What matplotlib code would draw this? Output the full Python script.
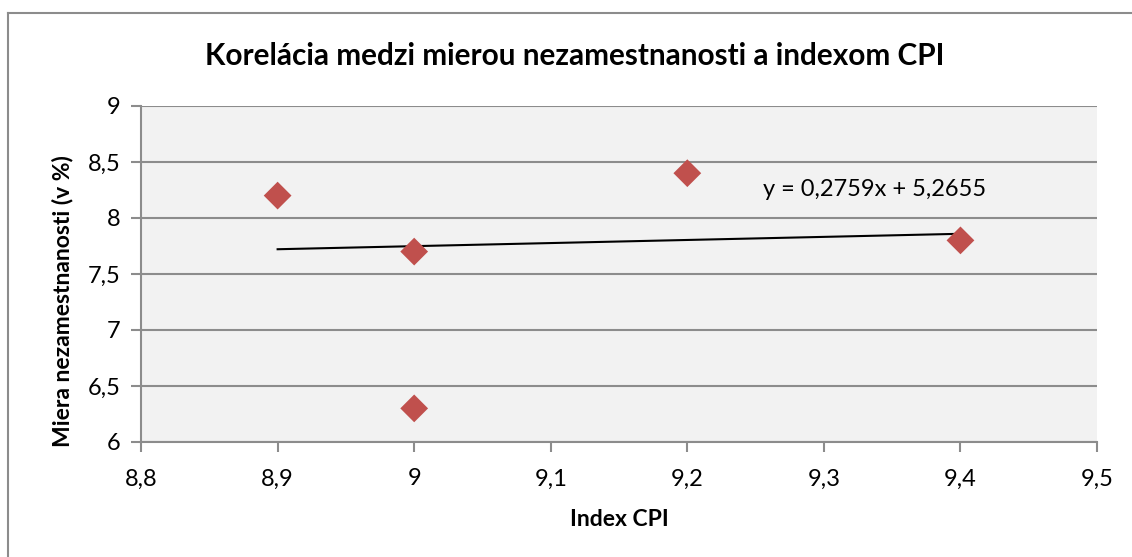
import matplotlib
matplotlib.use("Agg")
import matplotlib.pyplot as plt
import numpy as np
from matplotlib.lines import Line2D

cpi = [8.9, 9.0, 9.0, 9.2, 9.4]
unemployment = [8.2, 7.7, 6.3, 8.4, 7.8]
slope, intercept = 0.2759, 5.2655
x_ticks = [8.8, 8.9, 9.0, 9.1, 9.2, 9.3, 9.4, 9.5]
x_labels = ["8,8", "8,9", "9", "9,1", "9,2", "9,3", "9,4", "9,5"]
y_ticks = [6, 6.5, 7, 7.5, 8, 8.5, 9]
y_labels = ["6", "6,5", "7", "7,5", "8", "8,5", "9"]

plt.rcParams['font.family'] = ['Lato', 'DejaVu Sans']
fig = plt.figure(figsize=(11.32, 5.57), dpi=100)
ax = fig.add_axes([0.1246, 0.2065, 0.8445, 0.6032])
ax.set_facecolor('#F2F2F2')
grid_c = '#8C8C8C'
ax.set_xlim(8.8, 9.5)
ax.set_ylim(6, 9)
ax.set_yticks(y_ticks)
ax.set_yticklabels(y_labels)
ax.set_xticks(x_ticks)
ax.set_xticklabels(x_labels)
ax.grid(axis='y', color=grid_c, linewidth=1.5)
ax.set_axisbelow(True)
for s in ['top', 'right']:
    ax.spines[s].set_visible(False)
for s in ['left', 'bottom']:
    ax.spines[s].set_color(grid_c)
    ax.spines[s].set_linewidth(1.5)
ax.tick_params(axis='both', colors=grid_c, length=7, width=1.5, labelsize=17, labelcolor='black')
ax.tick_params(axis='x', pad=12)
ax.tick_params(axis='y', pad=8)

ax.scatter(cpi, unemployment, marker='D', s=200, color='#C0504D', edgecolors='none', zorder=3)
xs = np.array([min(cpi), max(cpi)])
ax.plot(xs, slope * xs + intercept, color='black', linewidth=1.5, zorder=2)
ax.text(9.2555, 8.25, "y = 0,2759x + 5,2655", fontsize=17, va='center', ha='left')

ax.set_xlabel("Index CPI", fontsize=16.5, fontweight='bold', labelpad=14)
ax.set_ylabel("Miera nezamestnanosti (v %)", fontsize=16.5, fontweight='bold', va='center')
ax.yaxis.set_label_coords(-0.0826, 0.42)
fig.text(0.508, 0.9, "Korelácia medzi mierou nezamestnanosti a indexom CPI",
         fontsize=21.4, fontweight='bold', ha='center', va='center')

fig.add_artist(Line2D([8/1132, 8/1132], [0, 1 - 13/557], transform=fig.transFigure, color='#8C8C8C', linewidth=1.5))
fig.add_artist(Line2D([8/1132, 1], [1 - 13/557, 1 - 13/557], transform=fig.transFigure, color='#8C8C8C', linewidth=1.5))

fig.savefig("out.png", dpi=100)
